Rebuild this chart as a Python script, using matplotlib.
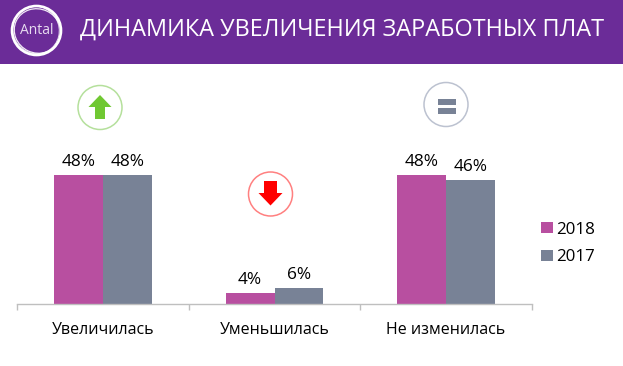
import matplotlib
matplotlib.use("Agg")
import matplotlib.pyplot as plt
from matplotlib.patches import Rectangle, Circle, Polygon, Ellipse

plt.rcParams['font.family'] = ['Open Sans', 'DejaVu Sans']

title = "ДИНАМИКА УВЕЛИЧЕНИЯ ЗАРАБОТНЫХ ПЛАТ"
categories = ["Увеличилась", "Уменьшилась", "Не изменилась"]
series_names = ["2018", "2017"]
values_2018 = [48, 4, 48]
values_2017 = [48, 6, 46]
colors = ["#B84FA0", "#788296"]

W, H = 623, 366
fig = plt.figure(figsize=(W / 100, H / 100), dpi=100, facecolor="white")

# overlay in pixel coordinates for the banner and icons
ov = fig.add_axes([0, 0, 1, 1], zorder=0)
ov.set_xlim(0, W); ov.set_ylim(H, 0); ov.axis("off")
ov.add_patch(Rectangle((0, 0), W, 64, fc="#6B2C98", ec="none"))
ov.add_patch(Circle((36.5, 30.5), 24.5, fc="none", ec="white", lw=1.9))
ov.add_patch(Ellipse((37.5, 31), 47, 44, angle=25, fc="none", ec="white", lw=0.9, alpha=0.9))
ov.add_patch(Ellipse((36, 30), 46, 48, angle=-30, fc="none", ec="white", lw=0.7, alpha=0.8))
ov.text(36.5, 30, "Antal", color="#E8DCF0", fontsize=10, ha="center", va="center")
ov.text(80, 29.5, title, color="white", fontsize=16.9, ha="left", va="center")

# icons
ov.add_patch(Circle((100, 107.5), 22, fc="white", ec="#B5E09C", lw=1.1))
ov.add_patch(Polygon([(100, 95), (111.5, 107), (105, 107), (105, 119),
                      (95, 119), (95, 107), (88.5, 107)], fc="#70C832", ec="none"))
ov.add_patch(Circle((270.5, 194), 22, fc="white", ec="#FF8080", lw=1.1))
ov.add_patch(Polygon([(270.5, 205.5), (282.5, 193), (277, 193), (277, 181),
                      (264, 181), (264, 193), (258.5, 193)], fc="#FF0000", ec="none"))
ov.add_patch(Circle((446, 104.5), 22, fc="white", ec="#BCC2D0", lw=1.1))
ov.add_patch(Rectangle((437.5, 99), 18.5, 5.5, fc="#788296", ec="none"))
ov.add_patch(Rectangle((437.5, 108), 18.5, 6, fc="#788296", ec="none"))

# chart
x0, x1, base, top = 17.3, 531.7, 304.0, 35.0
ax = fig.add_axes([x0 / W, 1 - base / H, (x1 - x0) / W, (base - top) / H], zorder=1)
ax.patch.set_alpha(0)
ax.set_xlim(0, 3)
ax.set_ylim(0, 100)
bw = 0.2855
pos = list(range(len(categories)))
for i, (vals, c, name) in enumerate(zip([values_2018, values_2017], colors, series_names)):
    xs = [p + 0.5 + (i - 0.5) * bw for p in pos]
    bars = ax.bar(xs, vals, width=bw, color=c, label=name, zorder=2)
    for x, v in zip(xs, vals):
        ax.annotate(f"{v}%", (x, v), xytext=(0, 3.5), textcoords="offset points",
                    ha="center", va="bottom", fontsize=12.4, color="black")

for s in ("top", "left", "right"):
    ax.spines[s].set_visible(False)
ax.spines["bottom"].set_color("#BFBFBF")
ax.spines["bottom"].set_linewidth(1.0)
ax.set_yticks([])
ax.set_xticks([0, 1, 2, 3])
ax.set_xticklabels([])
ax.tick_params(axis="x", length=4.5, width=1.0, color="#BFBFBF")
ax.set_xticks([0.5, 1.5, 2.5], labels=categories, minor=True)
ax.tick_params(axis="x", which="minor", length=0, pad=13, labelsize=11.5)

ax.legend(handles=ax.containers, labels=series_names, loc="center left",
          bbox_to_anchor=(541 / W, 1 - 243.5 / H), bbox_transform=fig.transFigure,
          frameon=False, fontsize=12.2, handlelength=0.68, handleheight=0.68,
          handletextpad=0.2, labelspacing=0.7, borderpad=0, borderaxespad=0)

fig.savefig("out.png", dpi=100, facecolor="white")
